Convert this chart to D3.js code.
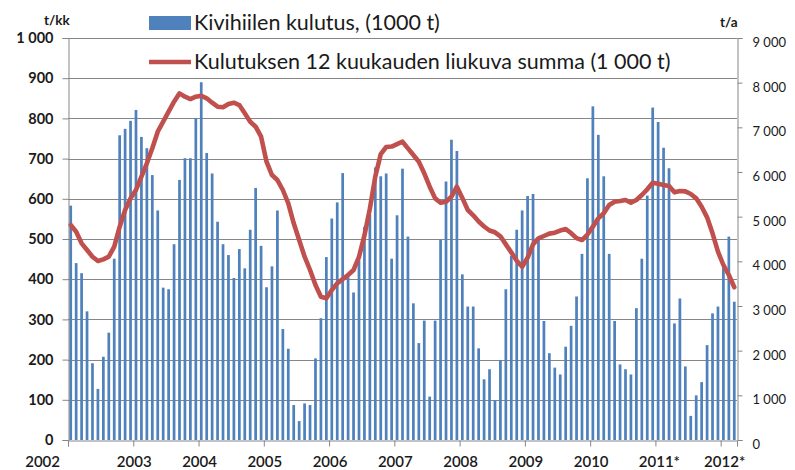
<!DOCTYPE html>
<html><head><meta charset="utf-8">
<script src="https://cdn.jsdelivr.net/npm/d3@7"></script>
<style>
body{margin:0;background:#fff}
svg{display:block}
text{font-family:Lato,"Open Sans",sans-serif;fill:#1a1a1a}
</style>
</head><body><svg id="c" width="795" height="470"></svg>
<script>
// ---- data ----
const yearLabels = ["2002","2003","2004","2005","2006","2007","2008","2009","2010","2011*","2012*"];
// monthly hard-coal consumption, 1000 t (Jan 2002 .. Mar 2012)
const consumption = [
  583,440,415,320,191,127,207,267,451,758,774,794,
  821,754,726,659,571,379,375,487,647,701,701,801,
  890,714,663,543,487,460,403,475,427,523,627,483,
  380,432,571,276,227,87,47,91,87,203,303,455,
  551,591,664,405,367,448,530,560,678,656,663,451,
  559,675,506,340,241,297,108,297,498,643,747,719,
  412,332,332,228,151,176,98,199,375,458,523,571,
  607,612,498,296,216,180,163,232,284,357,463,651,
  830,759,656,463,296,188,176,163,328,451,608,827,
  791,727,676,290,352,183,60,111,144,236,315,332,
  440,506,344
];
// 12-month rolling sum, 1000 t
const rollingSum = [
  4813,4664,4403,4253,4104,4007,4045,4104,4328,4776,5149,5410,
  5597,5894,6194,6530,6902,7126,7350,7574,7761,7686,7634,7686,
  7708,7650,7551,7462,7448,7522,7551,7499,7313,7126,7014,6790,
  6230,5932,5820,5597,5299,4851,4477,4104,3806,3470,3208,3172,
  3358,3507,3600,3694,3806,4100,4580,5180,5900,6400,6560,6570,
  6626,6678,6529,6380,6230,5970,5671,5410,5313,5335,5447,5671,
  5420,5149,5030,4890,4780,4690,4650,4560,4380,4200,4014,3880,
  4080,4380,4515,4567,4620,4640,4690,4723,4630,4520,4477,4600,
  4776,4963,5075,5261,5335,5350,5373,5313,5373,5485,5612,5760,
  5737,5708,5686,5545,5575,5567,5507,5410,5223,4985,4627,4216,
  3918,3694,3420
];
const leftTicks = [0,100,200,300,400,500,600,700,800,900,1000];
const rightTicks = [0,1000,2000,3000,4000,5000,6000,7000,8000,9000];
const seriesNames = ["Kivihiilen kulutus, (1000 t)","Kulutuksen 12 kuukauden liukuva summa (1 000 t)"];
const leftUnit = "t/kk", rightUnit = "t/a";

// ---- drawing ----
const BLUE = "#4F81BD", RED = "#C0504D", GRID = "#868686";
const L = 68, R = 737, T = 38, B = 440;
const n = consumption.length;
const svg = d3.select("#c");
svg.append("rect").attr("width",795).attr("height",470).attr("fill","#fff");

const x = d3.scaleBand().domain(d3.range(n)).range([L,R]).paddingInner(0.5).paddingOuter(0.25);
const xi = d3.scaleLinear().domain([0,n]).range([L,R]);
const yL = d3.scaleLinear().domain([0,1000]).range([B,T]);
const yR = d3.scaleLinear().domain([0,9000]).range([B,T]);
const fmt = d3.formatLocale({decimal:",",thousands:" ",grouping:[3],currency:["",""]}).format(",");

// gridlines
svg.append("g").selectAll("line").data(leftTicks.filter(d=>d>0)).join("line")
  .attr("x1",L).attr("x2",R)
  .attr("y1",d=>Math.round(yL(d))+0.5).attr("y2",d=>Math.round(yL(d))+0.5)
  .attr("stroke",GRID).attr("stroke-width",1.2);

// bars
svg.append("g").selectAll("rect").data(consumption).join("rect")
  .attr("x",(d,i)=>x(i)).attr("width",x.bandwidth())
  .attr("y",d=>yL(d)).attr("height",d=>B-yL(d))
  .attr("fill",BLUE);

// rolling sum line
svg.append("path").datum(rollingSum)
  .attr("d",d3.line().x((d,i)=>x(i)+x.bandwidth()/2).y(d=>yR(d)))
  .attr("fill","none").attr("stroke",RED).attr("stroke-width",4.6)
  .attr("stroke-linejoin","round").attr("stroke-linecap","round");

// axes
const axL = svg.append("g").attr("transform",`translate(${L+0.5},0)`)
  .call(d3.axisLeft(yL).tickValues(leftTicks).tickSize(6).tickPadding(9).tickFormat(fmt));
const axR = svg.append("g").attr("transform",`translate(${R+0.5},0)`)
  .call(d3.axisRight(yR).tickValues(rightTicks).tickSize(5).tickPadding(10).tickFormat(fmt));
const axB = svg.append("g").attr("transform",`translate(0,${B+0.5})`)
  .call(d3.axisBottom(xi).tickValues(d3.range(0,n,12)).tickSize(6).tickFormat(""));
[axL,axR,axB].forEach(g=>{
  g.select(".domain").attr("stroke",GRID);
  g.selectAll(".tick line").attr("stroke",GRID);
});
axL.selectAll("text").attr("font-size",14.5).attr("font-weight",700).attr("fill","#1a1a1a").attr("font-family","Lato");
axR.selectAll("text").attr("font-size",13).attr("fill","#1a1a1a").attr("font-family","Lato").attr("dy","0.65em");
// top border line
svg.append("line").attr("x1",L).attr("x2",R+0.5).attr("y1",T+0.5).attr("y2",T+0.5).attr("stroke",GRID).attr("stroke-width",1.2);

// year labels
svg.append("g").selectAll("text").data(yearLabels).join("text")
  .attr("x",(d,i)=> i===0 ? xi(0)-8 : xi(i*12)+ (d.endsWith("*")?4:1))
  .attr("y",467)
  .attr("text-anchor",(d,i)=> i===0 ? "end" : "middle")
  .attr("font-size",15).attr("font-weight",600)
  .text(d=>d);

// unit titles
svg.append("text").attr("x",44).attr("y",25).attr("font-size",13.5).attr("font-weight",700).text(leftUnit);
svg.append("text").attr("x",720).attr("y",27).attr("font-size",13.5).attr("font-weight",700).text(rightUnit);

// legend
svg.append("rect").attr("x",149).attr("y",16).attr("width",42).attr("height",14).attr("fill",BLUE);
svg.append("text").attr("x",194).attr("y",30).attr("font-size",21.5).text(seriesNames[0]);
svg.append("line").attr("x1",149).attr("x2",191).attr("y1",62).attr("y2",62).attr("stroke",RED).attr("stroke-width",4.6);
svg.append("text").attr("x",194).attr("y",69).attr("font-size",21.5).text(seriesNames[1]);
</script>
</body></html>
